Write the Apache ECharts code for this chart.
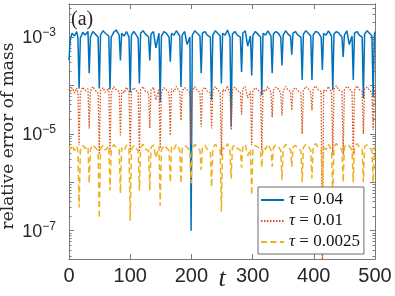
<!DOCTYPE html>
<html>
<head>
<meta charset="utf-8">
<script src="https://cdn.jsdelivr.net/npm/echarts@6/dist/echarts.min.js"></script>
<style>html,body{margin:0;padding:0;background:#fff}#c{width:395px;height:296px}</style>
</head>
<body>
<div id="c"></div>
<script>
// time samples
const t = [0,2,5,9,12.5,14.5,
16.5,18.5,22.5,26.5,31,
33,35,39,43,47.5,
49.5,51.5,55.5,59.5,65,
67,69,73,77,82,
84,86,90,94,98,
100,102,106,110,113,
115,117,121,125,130,
132,134,138,142,147,
149,151,155,159,163.5,
165.5,167.5,171.5,175.5,181,
183,185,189,193,197.5,
199.5,201.5,205.5,209.5,214,
216,218,222,226,231,
233,235,239,243,247,
249,251,255,259,263,
265,267,271,275,280,
282,284,288,292,296.5,
298.5,300.5,304.5,308.5,313,
315,317,321,325,330,
332,334,338,342,346,
348,350,354,358,362,
364,366,370,374,379,
381,383,387,391,395,
397,399,403,407,412,
414,416,420,424,429,
431,433,437,441,446,
448,450,454,458,462.5,
464.5,466.5,470.5,474.5,479,
481,483,487,491,495,
497,499,500];

// tau = 0.04
const err004 = [3.3e-4,9e-4,1.2e-3,1.05e-3,1.3e-3,1.0e-3,
8.7e-5,9.5e-4,1.25e-3,1.1e-3,1.3e-3,
1.8e-4,1.0e-3,1.3e-3,1.15e-3,1.0e-3,
8.7e-5,1.1e-3,1.35e-3,1.2e-3,1.05e-3,
8.3e-5,1.0e-3,1.25e-3,1.4e-3,1.1e-3,
3.3e-4,1.2e-3,1.05e-3,1.3e-3,1.0e-3,
7.2e-5,1.1e-3,1.3e-3,1.1e-3,9.5e-4,
1.1e-4,1.2e-3,1.35e-3,1.15e-3,1.0e-3,
3.3e-4,1.15e-3,1.3e-3,6.0e-4,1.2e-3,
4.5e-5,1.05e-3,1.3e-3,1.2e-3,1.0e-3,
3.1e-4,1.2e-3,1.1e-3,1.35e-3,1.05e-3,
9.3e-5,1.1e-3,1.3e-3,7.0e-4,1.0e-3,
1.0e-7,1.1e-3,1.35e-3,1.2e-3,1.05e-3,
1.8e-4,1.2e-3,1.3e-3,1.1e-3,1.0e-3,
5.0e-5,1.1e-3,1.35e-3,1.2e-3,1.05e-3,
1.1e-4,1.2e-3,1.1e-3,1.4e-3,1.0e-3,
1.4e-5,1.15e-3,1.3e-3,1.1e-3,1.0e-3,
1.9e-4,1.2e-3,1.35e-3,6.5e-4,1.05e-3,
1.6e-4,1.1e-3,1.3e-3,1.15e-3,1.0e-3,
6.3e-5,1.2e-3,1.1e-3,1.35e-3,1.05e-3,
1.8e-4,1.15e-3,1.3e-3,1.2e-3,1.0e-3,
2.6e-4,1.1e-3,1.35e-3,1.15e-3,1.05e-3,
4.3e-4,1.2e-3,1.3e-3,1.1e-3,1.0e-3,
1.3e-4,1.15e-3,1.35e-3,1.2e-3,1.05e-3,
1.3e-4,1.1e-3,1.3e-3,1.25e-3,1.0e-3,
2.1e-4,1.2e-3,1.1e-3,1.35e-3,1.05e-3,
8.0e-5,1.15e-3,1.3e-3,1.2e-3,1.0e-3,
3.9e-4,1.1e-3,1.35e-3,7.0e-4,1.05e-3,
1.3e-4,1.2e-3,1.3e-3,1.1e-3,1.0e-3,
5.5e-5,1.15e-3,1.35e-3,1.2e-3,1.05e-3,
5.8e-5,1.1e-3,1.3e-3];

// tau = 0.01
const err001 = [8.5e-5,7.5e-5,9.0e-5,7.0e-5,8.8e-5,7.2e-5,
5.8e-6,7.0e-5,9.2e-5,7.8e-5,8.5e-5,
1.3e-5,7.5e-5,9.5e-5,8.0e-5,7.0e-5,
4.0e-6,7.8e-5,9.0e-5,7.2e-5,8.8e-5,
4.0e-6,7.0e-5,9.5e-5,8.2e-5,7.5e-5,
9.3e-6,8.0e-5,7.0e-5,9.2e-5,7.5e-5,
4.0e-6,7.5e-5,9.0e-5,7.8e-5,7.0e-5,
4.3e-6,8.2e-5,9.5e-5,7.5e-5,7.2e-5,
1.3e-5,8.0e-5,9.2e-5,5.0e-5,8.5e-5,
5.0e-6,7.2e-5,9.0e-5,8.0e-5,7.0e-5,
9.3e-6,8.5e-5,7.5e-5,9.5e-5,7.2e-5,
1.9e-5,7.8e-5,9.0e-5,8.2e-5,7.0e-5,
6.1e-6,7.5e-5,9.5e-5,8.0e-5,7.2e-5,
1.4e-5,8.0e-5,9.2e-5,7.5e-5,7.0e-5,
1.3e-5,7.8e-5,9.5e-5,8.2e-5,7.2e-5,
3.6e-6,8.2e-5,7.5e-5,9.8e-5,7.0e-5,
1.2e-5,8.0e-5,9.2e-5,7.8e-5,7.2e-5,
2.5e-5,8.5e-5,9.5e-5,5.5e-5,7.5e-5,
5.8e-6,7.8e-5,9.0e-5,8.2e-5,7.0e-5,
4.6e-6,8.2e-5,7.5e-5,9.5e-5,7.2e-5,
2.2e-5,8.0e-5,9.2e-5,8.5e-5,7.0e-5,
2.4e-5,7.8e-5,9.5e-5,8.0e-5,7.5e-5,
3.1e-5,8.2e-5,9.0e-5,7.8e-5,7.0e-5,
1.0e-5,8.0e-5,9.5e-5,8.5e-5,7.2e-5,
3.1e-5,8.5e-5,9.8e-5,8.2e-5,7.5e-5,
1.0e-8,8.0e-5,7.5e-5,9.5e-5,7.2e-5,
3.6e-6,8.5e-5,9.8e-5,8.0e-5,7.5e-5,
3.6e-6,8.2e-5,9.5e-5,8.8e-5,7.2e-5,
3.6e-6,8.0e-5,9.8e-5,8.2e-5,7.5e-5,
1.0e-5,8.5e-5,9.2e-5,8.0e-5,7.2e-5,
1.2e-5,7.8e-5,8.5e-5];

// tau = 0.0025
const err00025 = [5.5e-6,4.8e-6,5.8e-6,4.5e-6,5.6e-6,4.6e-6,
3.0e-7,4.5e-6,5.8e-6,5.0e-6,5.5e-6,
9.5e-7,4.8e-6,6.0e-6,5.2e-6,4.5e-6,
1.8e-7,5.0e-6,5.8e-6,4.6e-6,5.6e-6,
6.8e-7,4.5e-6,6.0e-6,5.3e-6,4.8e-6,
5.9e-7,5.2e-6,4.5e-6,5.9e-6,4.8e-6,
1.6e-7,4.8e-6,5.8e-6,5.0e-6,4.5e-6,
6.8e-7,5.3e-6,6.1e-6,4.8e-6,4.6e-6,
6.8e-7,5.2e-6,5.9e-6,3.2e-6,5.5e-6,
3.3e-7,4.6e-6,5.8e-6,5.2e-6,4.5e-6,
1.0e-6,5.5e-6,4.8e-6,6.1e-6,4.6e-6,
9.5e-7,5.0e-6,5.8e-6,5.3e-6,4.5e-6,
9.5e-7,4.8e-6,6.1e-6,5.2e-6,4.6e-6,
1.8e-6,5.2e-6,5.9e-6,4.8e-6,4.5e-6,
7.9e-7,5.0e-6,6.1e-6,5.3e-6,4.6e-6,
2.5e-7,5.3e-6,4.8e-6,6.3e-6,4.5e-6,
1.2e-6,5.2e-6,5.9e-6,5.0e-6,4.6e-6,
2.0e-6,5.5e-6,6.1e-6,3.5e-6,4.8e-6,
5.4e-7,5.0e-6,5.8e-6,5.3e-6,4.5e-6,
2.0e-6,5.3e-6,4.8e-6,6.1e-6,4.6e-6,
2.1e-6,5.2e-6,5.9e-6,5.5e-6,4.5e-6,
1.1e-6,5.0e-6,6.1e-6,5.2e-6,4.8e-6,
2.1e-6,5.3e-6,5.8e-6,5.0e-6,4.5e-6,
1.0e-6,5.2e-6,6.1e-6,5.5e-6,4.6e-6,
1.2e-6,5.5e-6,6.3e-6,5.3e-6,4.8e-6,
8.0e-7,5.2e-6,4.8e-6,6.1e-6,4.6e-6,
5.0e-7,5.5e-6,6.3e-6,5.2e-6,4.8e-6,
1.0e-6,5.3e-6,6.1e-6,5.6e-6,4.6e-6,
1.0e-6,5.2e-6,6.3e-6,5.3e-6,4.8e-6,
1.0e-6,5.5e-6,5.9e-6,5.2e-6,4.6e-6,
1.0e-6,5.0e-6,5.5e-6];

const seriesNames = ['τ = 0.04', 'τ = 0.01', 'τ = 0.0025'];
const xTicks = [0, 100, 200, 300, 400, 500];
const yLabelTicks = [1e-7, 1e-5, 1e-3];
const yMin = 2.6e-8, yMax = 4.82e-3;

const decades = [1e-8,1e-7,1e-6,1e-5,1e-4,1e-3];
const minorTicks = [];
decades.forEach(d => { for (let k = 2; k <= 9; k++) minorTicks.push(k * d); });

const frame = '#7a7a7a';
const txt = '#262626';

function pairs(vals) { return t.map((x, i) => [x, vals[i]]); }

const chart = echarts.init(document.getElementById('c'), null, {renderer: 'canvas'});

function yAx(pos, withLabels, ticks, len) {
  return {
    type: 'log', logBase: 10, min: yMin, max: yMax, position: pos,
    axisLine: {show: true, onZero: false, lineStyle: {color: frame, width: 1}},
    axisTick: {show: true, inside: true, length: len, customValues: ticks, lineStyle: {color: frame}},
    axisLabel: withLabels ? {
      show: true, margin: 13, customValues: yLabelTicks,
      formatter: v => '{b|10}{s|−' + Math.abs(Math.round(Math.log10(v))) + '}',
      rich: {
        b: {fontSize: 18, fontFamily: 'Liberation Sans', color: txt, lineHeight: 20, verticalAlign: 'bottom'},
        s: {fontSize: 12, fontFamily: 'Liberation Sans', color: txt, lineHeight: 12, verticalAlign: 'top'}
      }
    } : {show: false},
    splitLine: {show: false}, minorTick: {show: false}
  };
}
function xAx(pos, withLabels) {
  return {
    type: 'value', min: 0, max: 500, interval: 100, position: pos,
    axisLine: {show: true, onZero: false, lineStyle: {color: frame, width: 1}},
    axisTick: {show: true, inside: true, length: 5, lineStyle: {color: frame}},
    axisLabel: withLabels ? {show: true, fontSize: 20, fontFamily: 'Liberation Sans', color: txt, margin: 7, customValues: xTicks} : {show: false},
    splitLine: {show: false}
  };
}

const option = {
  animation: false,
  backgroundColor: '#fff',
  grid: {left: 69, right: 20, top: 4, bottom: 37, containLabel: false},
  xAxis: [xAx('bottom', true), xAx('top', false)],
  yAxis: [
    yAx('left', true, decades, 5),
    yAx('right', false, decades, 5),
    yAx('left', false, minorTicks, 2.5),
    yAx('right', false, minorTicks, 2.5)
  ],
  legend: {
    orient: 'vertical', left: 258, top: 187,
    data: seriesNames,
    itemWidth: 23, itemHeight: 10, itemGap: 3,
    padding: [4, 4, 3, 2],
    itemStyle: {opacity: 0},
    backgroundColor: '#fff', borderColor: '#6a6a6a', borderWidth: 1,
    formatter: n => '{i|τ}' + n.slice(1),
    textStyle: {fontFamily: 'Liberation Serif', fontSize: 17, color: '#111', lineHeight: 18,
      rich: {i: {fontFamily: 'Liberation Serif', fontStyle: 'italic', fontSize: 17, color: '#111', lineHeight: 18}}}
  },
  series: [
    {name: seriesNames[0], type: 'line', data: pairs(err004), showSymbol: false, symbol: 'none',
      lineStyle: {color: '#0072BD', width: 1.5}, itemStyle: {color: '#0072BD'}},
    {name: seriesNames[1], type: 'line', data: pairs(err001), showSymbol: false, symbol: 'none',
      lineStyle: {color: '#D95319', width: 1.3, type: [1.5, 1.5]}, itemStyle: {color: '#D95319'}},
    {name: seriesNames[2], type: 'line', data: pairs(err00025), showSymbol: false, symbol: 'none',
      lineStyle: {color: '#EDB120', width: 1.5, type: [6, 3.5]}, itemStyle: {color: '#EDB120'}}
  ],
  graphic: [
    {type: 'text', x: 9, y: 136, rotation: Math.PI / 2, z: 100,
      style: {text: 'relative error of mass', font: '17px "DejaVu Serif"', fill: txt, align: 'center', verticalAlign: 'middle'}},
    {type: 'text', x: 222, y: 279, z: 100,
      style: {text: 't', font: 'italic 26px "Liberation Serif"', fill: txt, align: 'center', verticalAlign: 'middle'}},
    {type: 'text', x: 71, y: 20, z: 100,
      style: {text: '(a)', font: '20px "Liberation Serif"', fill: txt, align: 'left', verticalAlign: 'middle'}}
  ]
};
chart.setOption(option);
</script>
</body>
</html>
